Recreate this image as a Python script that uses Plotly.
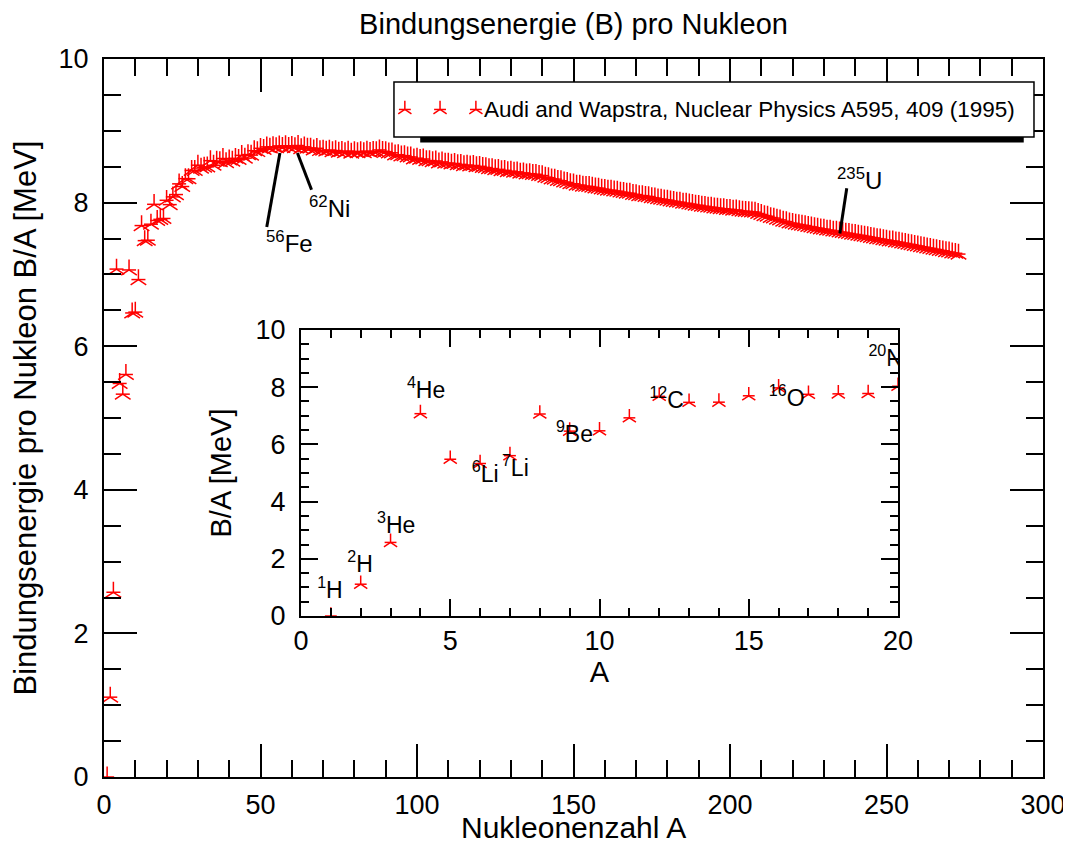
import plotly.graph_objects as go

# ---------------- data ----------------
mass_number = list(range(1, 274))
binding_per_nucleon = [
    0.000, 1.112, 2.573, 7.074, 5.481, 5.332, 5.606, 7.062, 6.463, 6.475,
    6.928, 7.680, 7.470, 7.476, 7.699, 7.976, 7.751, 7.767, 7.779, 8.032,
    7.972, 8.080, 8.112, 8.261, 8.224, 8.334, 8.332, 8.448, 8.449, 8.521,
    8.481, 8.493, 8.498, 8.584, 8.520, 8.576, 8.570, 8.614, 8.557, 8.595,
    8.576, 8.617, 8.601, 8.658, 8.619, 8.669, 8.661, 8.723, 8.711, 8.756,
    8.742, 8.776, 8.760, 8.778, 8.765, 8.790, 8.770, 8.792, 8.768, 8.781,
    8.765, 8.795, 8.752, 8.777, 8.757, 8.760, 8.734, 8.756, 8.725, 8.730,
    8.718, 8.732, 8.710, 8.725, 8.701, 8.712, 8.695, 8.718, 8.688, 8.711,
    8.696, 8.711, 8.696, 8.717, 8.698, 8.712, 8.711, 8.733, 8.714, 8.710,
    8.693, 8.693, 8.664, 8.667, 8.649, 8.654, 8.636, 8.635, 8.608, 8.619,
    8.601, 8.607, 8.584, 8.585, 8.571, 8.580, 8.554, 8.567, 8.548, 8.551,
    8.537, 8.545, 8.527, 8.532, 8.514, 8.523, 8.510, 8.517, 8.499, 8.505,
    8.489, 8.488, 8.472, 8.474, 8.458, 8.463, 8.446, 8.449, 8.431, 8.438,
    8.424, 8.428, 8.410, 8.414, 8.398, 8.403, 8.392, 8.394, 8.378, 8.376,
    8.355, 8.347, 8.330, 8.327, 8.309, 8.304, 8.287, 8.280, 8.263, 8.262,
    8.244, 8.244, 8.229, 8.227, 8.224, 8.215, 8.204, 8.202, 8.189, 8.184,
    8.173, 8.173, 8.162, 8.159, 8.147, 8.142, 8.132, 8.130, 8.115, 8.112,
    8.098, 8.097, 8.087, 8.084, 8.069, 8.064, 8.053, 8.049, 8.039, 8.035,
    8.023, 8.018, 8.008, 8.005, 7.991, 7.991, 7.981, 7.974, 7.963, 7.962,
    7.949, 7.948, 7.938, 7.936, 7.927, 7.923, 7.916, 7.914, 7.905, 7.906,
    7.895, 7.897, 7.887, 7.880, 7.878, 7.875, 7.870, 7.867, 7.848, 7.834,
    7.819, 7.810, 7.792, 7.785, 7.768, 7.759, 7.741, 7.735, 7.716, 7.712,
    7.700, 7.694, 7.685, 7.680, 7.667, 7.662, 7.650, 7.645, 7.634, 7.631,
    7.618, 7.615, 7.604, 7.601, 7.591, 7.586, 7.576, 7.570, 7.560, 7.556,
    7.546, 7.541, 7.531, 7.525, 7.515, 7.509, 7.499, 7.493, 7.483, 7.478,
    7.467, 7.465, 7.453, 7.448, 7.437, 7.431, 7.420, 7.414, 7.403, 7.397,
    7.386, 7.380, 7.369, 7.363, 7.352, 7.346, 7.335, 7.329, 7.318, 7.312,
    7.300, 7.294, 7.283,
]

inset_mass_number = mass_number[:20]
inset_binding = binding_per_nucleon[:20]

legend_label = "Audi and Wapstra, Nuclear Physics A595, 409 (1995)"

# labels in the main plot: text, text position, pointer line (x0, y0, x1, y1)
main_label_text = ["<sup>56</sup>Fe", "<sup>62</sup>Ni", "<sup>235</sup>U"]
main_label_pos = [(59.4, 7.45), (72.2, 7.94), (241.5, 8.33)]
main_label_lines = [(56.2, 8.69, 52.0, 7.66), (61.8, 8.69, 66.3, 8.18), (237.3, 8.20, 235.1, 7.57)]

# labels in the inset
inset_label_text = ["<sup>1</sup>H", "<sup>2</sup>H", "<sup>3</sup>He", "<sup>4</sup>He",
                    "<sup>6</sup>Li", "<sup>7</sup>Li", "<sup>9</sup>Be", "<sup>12</sup>C",
                    "<sup>16</sup>O", "<sup>20</sup>Ne"]
inset_label_x = [0.97, 1.98, 3.19, 4.19, 6.17, 7.18, 9.16, 12.25, 16.27, 19.8]
inset_label_y = [0.84, 1.75, 3.11, 7.83, 4.90, 5.10, 6.29, 7.48, 7.55, 8.95]

# ---------------- style ----------------
FONT = "Liberation Sans, Arial, Helvetica, sans-serif"
RED = "#ff0000"

def star_traces(x, y, size, xaxis="x", yaxis="y"):
    common = dict(x=x, y=y, mode="markers", xaxis=xaxis, yaxis=yaxis,
                  showlegend=False, hoverinfo="skip", cliponaxis=True)
    t1 = go.Scatter(marker=dict(symbol="y-up-open", size=size, color=RED,
                                line=dict(color=RED, width=1.5)), **common)
    t2 = go.Scatter(marker=dict(symbol="line-ew-open", size=size * 0.77, color=RED,
                                line=dict(color=RED, width=1.5)), **common)
    return [t1, t2]

fig = go.Figure()
for t in star_traces(mass_number, binding_per_nucleon, 13):
    fig.add_trace(t)
for t in star_traces(inset_mass_number, inset_binding, 11, "x2", "y2"):
    fig.add_trace(t)

# inset labels (clipped by the inset frame like the original)
fig.add_trace(go.Scatter(x=inset_label_x, y=inset_label_y, text=inset_label_text,
                         mode="text", textposition="middle center",
                         textfont=dict(family=FONT, size=23, color="black"),
                         xaxis="x2", yaxis="y2", showlegend=False, hoverinfo="skip",
                         cliponaxis=True))

# legend glyph stars on an invisible overlay axis
legend_star_x = [0.017, 0.072, 0.128]
for t in star_traces(legend_star_x, [0.5, 0.5, 0.5], 11, "x3", "y3"):
    fig.add_trace(t)

axis_common = dict(showline=True, linewidth=2, linecolor="black", mirror="ticks",
                   ticks="inside", tickwidth=2, tickcolor="black",
                   showgrid=False, zeroline=False,
                   tickfont=dict(family=FONT, size=27, color="black"))
minor_common = dict(ticks="inside", tickwidth=2, tickcolor="black")

fig.update_layout(
    width=1071, height=842, autosize=False,
    margin=dict(l=96, r=36, t=51, b=73),
    paper_bgcolor="white", plot_bgcolor="white",
    font=dict(family=FONT, color="black"),
    title=dict(text="Bindungsenergie (B) pro Nukleon", x=0.5, xref="paper",
               y=1 - 16 / 842, yref="container", yanchor="middle",
               font=dict(family=FONT, size=29, color="black")),
    xaxis=dict(range=[0, 300], dtick=50, ticklen=33, ticklabelstandoff=3,
               minor=dict(dtick=10, ticklen=17, **minor_common),
               automargin=False, **axis_common),
    yaxis=dict(range=[0, 10], dtick=2, ticklen=33, ticklabelstandoff=8,
               minor=dict(dtick=0.5, ticklen=17, **minor_common),
               title=dict(text="Bindungsenergie pro Nukleon B/A [MeV]",
                          font=dict(family=FONT, size=31), standoff=14),
               automargin=False, **axis_common),
    xaxis2=dict(domain=[0.2098, 0.8456], anchor="y2", range=[0, 20], dtick=5, ticklen=17,
                ticklabelstandoff=0,
                minor=dict(dtick=1, ticklen=8, **minor_common),
                title=dict(text="A", font=dict(family=FONT, size=29), standoff=2),
                automargin=False, **axis_common),
    yaxis2=dict(domain=[0.2242, 0.6226], anchor="x2", range=[0, 10], dtick=2, ticklen=17,
                ticklabelstandoff=8,
                minor=dict(dtick=0.5, ticklen=8, **minor_common),
                title=dict(text="B/A [MeV]", font=dict(family=FONT, size=29), standoff=15),
                automargin=False, **axis_common),
    xaxis3=dict(domain=[0.3088, 0.9904], anchor="y3", range=[0, 1], visible=False, fixedrange=True),
    yaxis3=dict(domain=[0.8914, 0.968], anchor="x3", range=[0, 1], visible=False, fixedrange=True),
)

shapes = []
# legend shadow and box
shapes.append(dict(type="rect", xref="x3 domain", yref="y3 domain", x0=0.041, x1=0.984,
                   y0=-0.1, y1=0.0, fillcolor="black", line=dict(width=0), layer="above"))
shapes.append(dict(type="rect", xref="x3 domain", yref="y3 domain", x0=0, x1=1, y0=0, y1=1,
                   fillcolor="rgba(255,255,255,0)", line=dict(color="black", width=1.5), layer="above"))
for (x0, y0, x1, y1) in main_label_lines:
    shapes.append(dict(type="line", xref="x", yref="y", x0=x0, y0=y0, x1=x1, y1=y1,
                       line=dict(color="black", width=3), layer="above"))
fig.update_layout(shapes=shapes)

annotations = []
# main x-axis title, placed like the original (close to the bottom edge)
annotations.append(dict(text="Nukleonenzahl A", xref="paper", yref="paper", x=0.5, y=-0.0710,
                        xanchor="center", yanchor="middle", showarrow=False,
                        font=dict(family=FONT, size=30, color="black")))
annotations.append(dict(text=legend_label, xref="x3 domain", yref="y3 domain", x=0.1375, y=0.5,
                        xanchor="left", yanchor="middle", showarrow=False,
                        font=dict(family=FONT, size=22.5, color="black")))
for txt, (x, y) in zip(main_label_text, main_label_pos):
    annotations.append(dict(text=txt, xref="x", yref="y", x=x, y=y, showarrow=False,
                            xanchor="center", yanchor="middle",
                            font=dict(family=FONT, size=24, color="black")))
fig.update_layout(annotations=annotations)

fig.write_html("out.html")
